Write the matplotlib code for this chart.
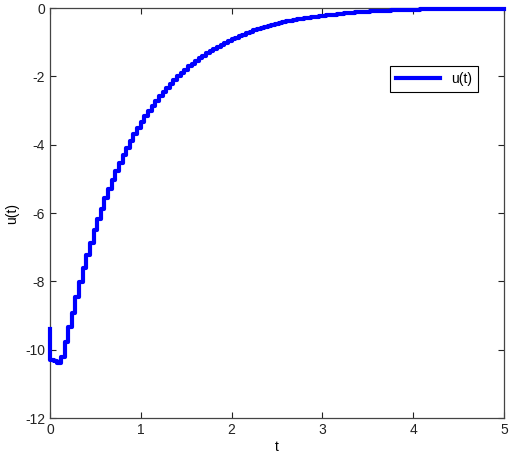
import numpy as np
import matplotlib
matplotlib.use("Agg")
import matplotlib.pyplot as plt

plt.rcParams['font.family'] = ['Liberation Sans', 'DejaVu Sans']
plt.rcParams['axes.unicode_minus'] = False

# sampled control signal, step 0.04 s (zero-order hold)
dt = 0.04
u0 = -9.4
u = [-10.30, -10.33, -10.38, -10.20, -9.77, -9.33, -8.93, -8.46, -8.02, -7.60,
     -7.23, -6.88, -6.50, -6.18, -5.87, -5.57, -5.29, -5.03, -4.78, -4.54,
     -4.31, -4.10, -3.89, -3.70, -3.51, -3.34, -3.17, -3.01, -2.86, -2.72,
     -2.58, -2.45, -2.33, -2.21, -2.10, -2.00, -1.90, -1.80, -1.71, -1.63,
     -1.55, -1.47, -1.39, -1.32, -1.26, -1.19, -1.13, -1.08, -1.03, -0.97,
     -0.92, -0.87, -0.82, -0.78, -0.73, -0.69, -0.65, -0.62, -0.58, -0.55,
     -0.52, -0.49, -0.47, -0.44, -0.42, -0.39, -0.37, -0.35, -0.33, -0.31,
     -0.30, -0.28, -0.27, -0.25, -0.24, -0.22, -0.21, -0.20, -0.19, -0.18,
     -0.17, -0.16, -0.15, -0.14, -0.13, -0.12, -0.12, -0.11, -0.10, -0.10,
     -0.09, -0.09, -0.08, -0.08, -0.07, -0.07, -0.06, -0.06, -0.06, -0.05,
     -0.05, -0.05, -0.04, -0.04, -0.04, -0.04, -0.03, -0.03, -0.03, -0.03,
     -0.03, -0.02, -0.02, -0.02, -0.02, -0.02, -0.02, -0.02, -0.02, -0.02,
     -0.02, -0.02, -0.02, -0.02, -0.02, -0.02]

t = np.arange(len(u)) * dt
t = np.concatenate([[0.0], t])
uu = np.concatenate([[u0], u])

fig = plt.figure(figsize=(5.1, 4.58), dpi=100)
ax = fig.add_axes([0.098, 0.0873, 0.89, 0.8952])
line, = ax.step(t, uu, where='post', color='#0000ff', linewidth=3, label='u(t)',
                clip_on=False, zorder=3)

ax.set_xlim(0, 5)
ax.set_ylim(-12, 0)
ax.set_xticks([0, 1, 2, 3, 4, 5])
ax.set_yticks(range(-12, 1, 2))
ax.tick_params(direction='in', top=True, right=True, length=4, width=0.8,
               labelsize=10, colors='#222222')
for s in ax.spines.values():
    s.set_color('#444444')
    s.set_linewidth(0.9)
ax.set_xlabel('t', fontsize=10, labelpad=2)
ax.set_ylabel('u(t)', fontsize=10, labelpad=4)

leg = ax.legend(loc='center', bbox_to_anchor=(0.846, 0.827), fancybox=False,
                edgecolor='black', fontsize=10, handlelength=3.2,
                borderpad=0.4, framealpha=1)
leg.get_frame().set_linewidth(0.8)

fig.savefig('out.png', dpi=100)
